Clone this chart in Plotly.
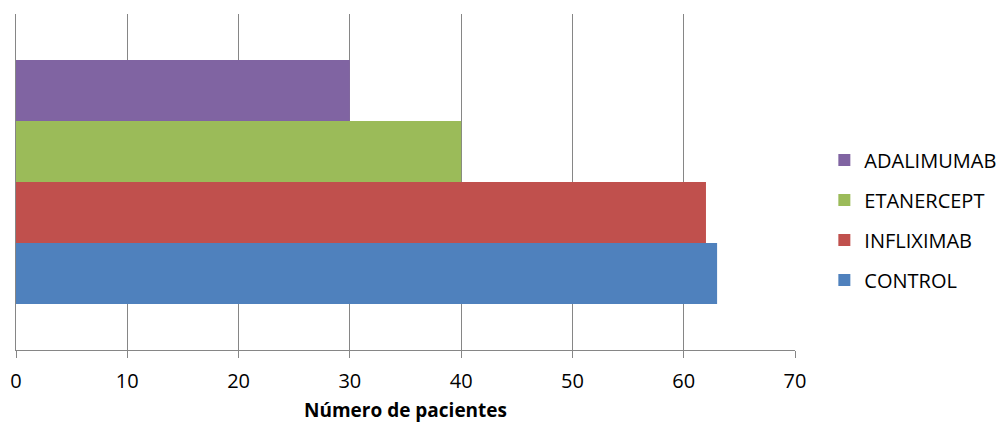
import plotly.graph_objects as go

series = ["CONTROL", "INFLIXIMAB", "ETANERCEPT", "ADALIMUMAB"]
values = [63, 62, 40, 30]
colors = ["#4F81BD", "#C0504D", "#9BBB59", "#8064A2"]
category = [""]

fig = go.Figure()
n = len(series)
for i, (name, v, c) in enumerate(zip(series, values, colors)):
    fig.add_trace(go.Bar(
        y=category, x=[v], name=name, orientation="h",
        marker=dict(color=c, line=dict(width=0)),
        legendgroup=name, legendrank=1000 + (n - i),
    ))

FONT = "Open Sans"
fig.update_layout(
    width=998, height=423,
    margin=dict(l=16, r=203, t=14, b=73, autoexpand=False),
    paper_bgcolor="white", plot_bgcolor="white",
    barmode="group", bargap=0.274, bargroupgap=0,
    font=dict(family=FONT, size=20, color="black"),
    legend=dict(
        traceorder="grouped", xref="container", x=0.826, xanchor="left",
        yref="container", y=0.48, yanchor="middle",
        tracegroupgap=11, font=dict(family=FONT, size=20, color="black"),
        bgcolor="rgba(0,0,0,0)",
    ),
    xaxis=dict(
        range=[0, 70], dtick=10, tick0=0,
        showgrid=True, gridcolor="#868686", gridwidth=1,
        showline=True, linecolor="#868686", linewidth=1,
        ticks="outside", ticklen=7, tickcolor="#868686",
        ticklabelstandoff=6,
        zeroline=False,
        tickfont=dict(family=FONT, size=20, color="black"),
        title=dict(text="<b>Número de pacientes</b>", standoff=12,
                   font=dict(family=FONT, size=19, color="black")),
    ),
    yaxis=dict(
        showline=True, linecolor="#868686", linewidth=1,
        showticklabels=False, ticks="", showgrid=False,
    ),
)

fig.write_html("out.html")
